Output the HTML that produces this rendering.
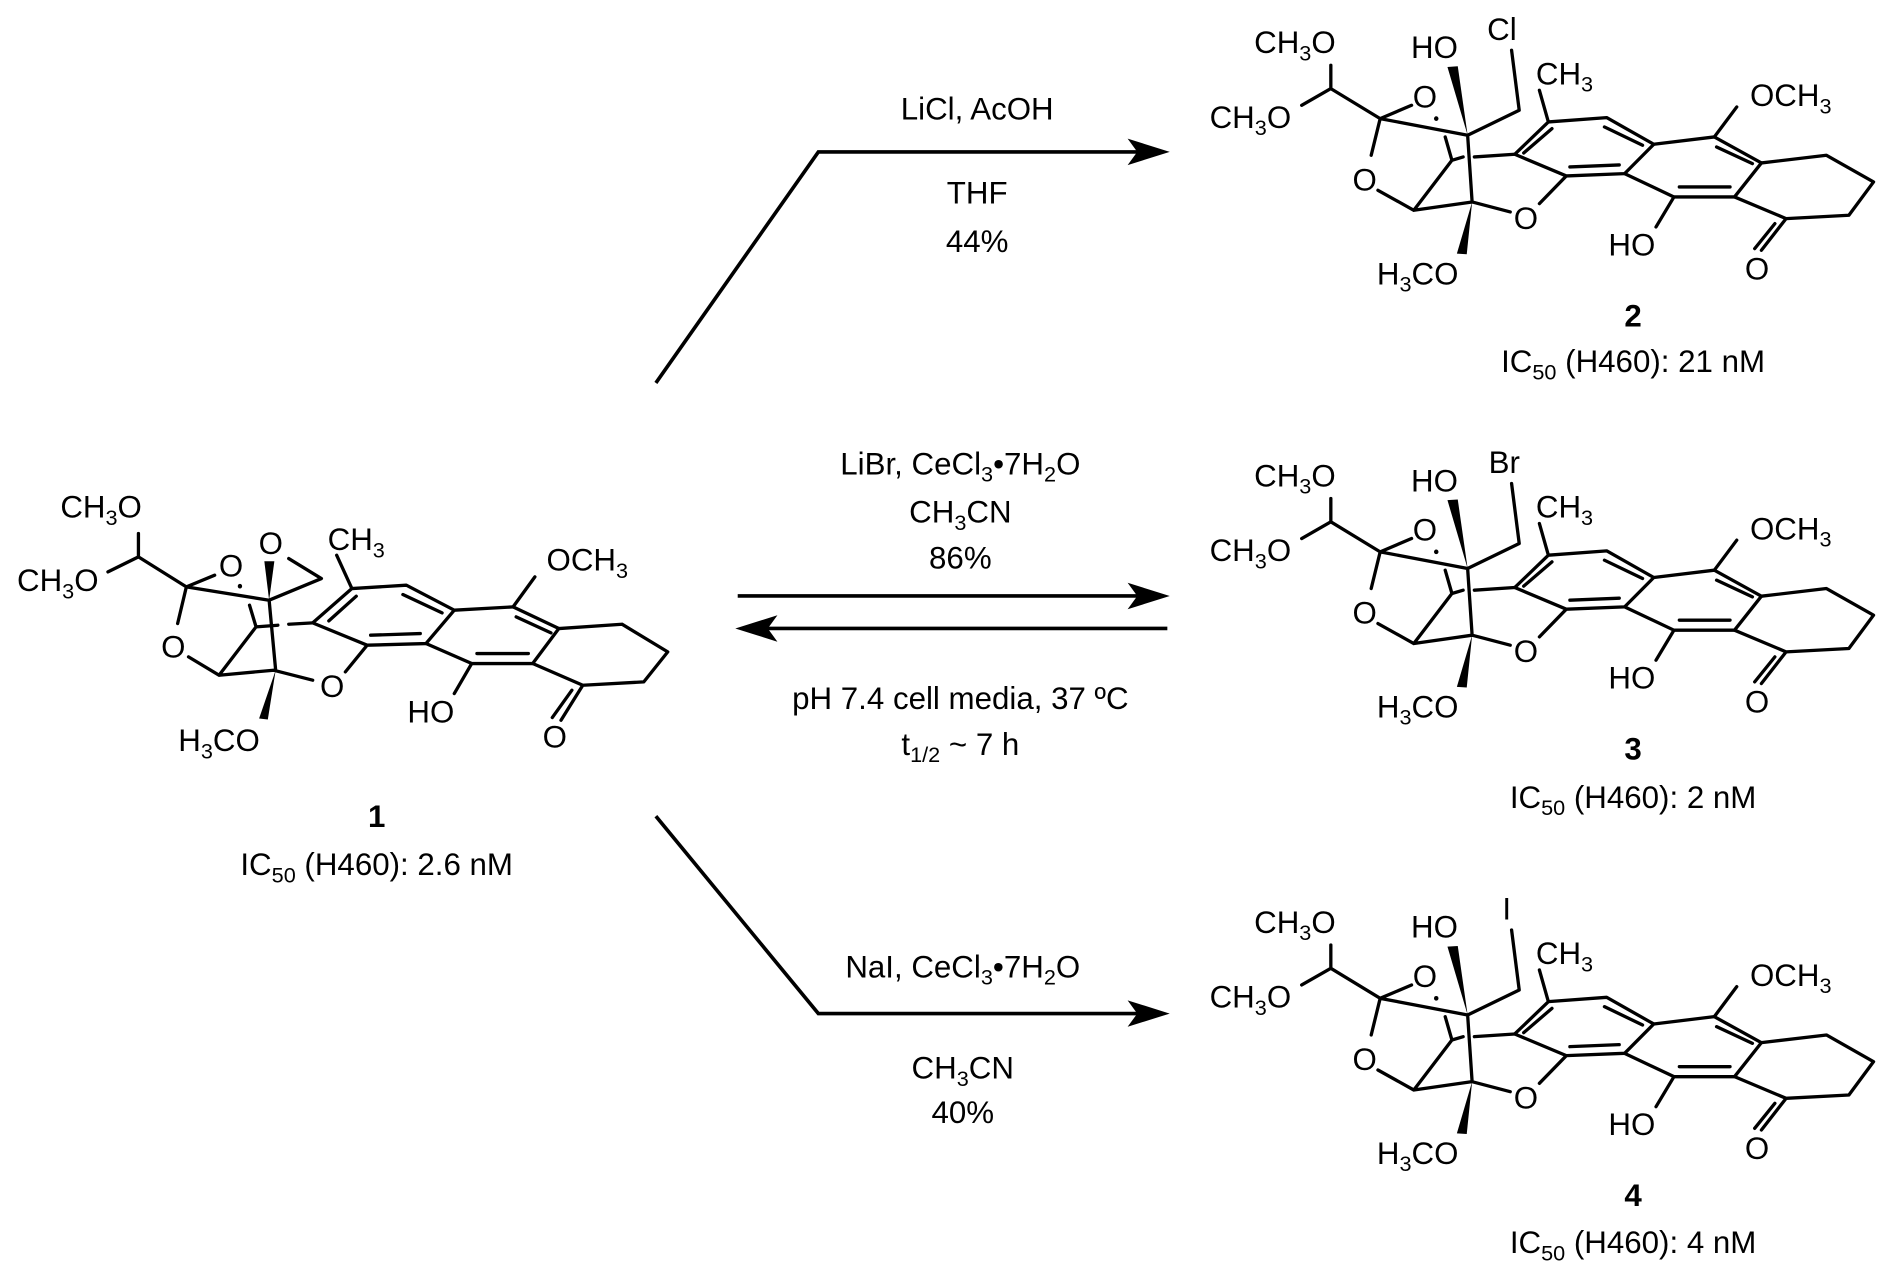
<!DOCTYPE html>
<html><head><meta charset="utf-8"><style>
html,body{margin:0;padding:0;background:#fff}
svg{display:block}
text{font-family:"Liberation Sans",Arial,sans-serif;fill:#000}
.b{stroke:#000;stroke-width:3.3;fill:none;stroke-linecap:round;stroke-linejoin:round}
</style></head><body>
<svg width="1887" height="1281" viewBox="0 0 1568 1064" xmlns="http://www.w3.org/2000/svg">
<defs>
<g id="prod">
 <g transform="translate(981,0) scale(0.3727,0.277)">
 <g class="b">
  <path vector-effect="non-scaling-stroke" d="M335 195 L335 265 L445 355 M270 315 L335 265 M515 315 L445 355 M445 355 L425 465 M445 355 L640 405 M640 405 L755 330 L738 150 M640 405 L650 605 M590 410 L605 480 M605 480 L630 470 M655 470 L745 462 M605 480 L520 630 M440 570 L520 630 L650 605 L735 635"/>
  <path vector-effect="non-scaling-stroke" d="M745 462 L820 365 L950 352 L1055 432 L990 520 L860 527 Z M860 527 L800 610 M820 365 L800 270"/>
  <path vector-effect="non-scaling-stroke" d="M765 458 L828 385 M945 380 L1030 435 M868 500 L978 494"/>
  <path vector-effect="non-scaling-stroke" d="M1055 432 L1190 410 L1295 488 L1235 590 L1100 590 L990 520 M1195 440 L1275 490 M1112 560 L1225 560"/>
  <path vector-effect="non-scaling-stroke" d="M1190 410 L1240 320 M1100 590 L1060 680"/>
  <path vector-effect="non-scaling-stroke" d="M1295 488 L1440 465 L1545 545 L1490 645 L1350 655 L1235 590 M1350 655 L1295 750 M1325 670 L1280 745"/>
 </g>
 <ellipse cx="570" cy="355" rx="5" ry="7" fill="#000"/>
 <polygon points="640,405 595,200 618,198" fill="#000"/>
 <polygon points="650,605 616,760 638,762" fill="#000"/>
 </g>
 <g font-size="26" text-anchor="middle">
  <text x="1076" y="44">CH<tspan font-size="18" dy="6">3</tspan><tspan dy="-6">O</tspan></text>
  <text x="1039" y="106">CH<tspan font-size="18" dy="6">3</tspan><tspan dy="-6">O</tspan></text>
  <text x="1184" y="89">O</text>
  <text x="1134" y="158">O</text>
  <text x="1268" y="190">O</text>
  <text x="1192" y="48">HO</text>
  <text x="1178" y="236">H<tspan font-size="18" dy="6">3</tspan><tspan dy="-6">CO</tspan></text>
  <text x="1300" y="70">CH<tspan font-size="18" dy="6">3</tspan></text>
  <text x="1488" y="88">OCH<tspan font-size="18" dy="6">3</tspan></text>
  <text x="1356" y="212">HO</text>
  <text x="1460" y="232">O</text>
 </g>
</g>
</defs>

<!-- compound 1 -->
<g transform="translate(1,398.8) scale(0.362,0.277)">
 <g class="b">
  <path vector-effect="non-scaling-stroke" d="M315 160 L315 230 L425 320 M245 275 L315 230 M490 285 L425 320 M425 320 L405 430 M425 320 L615 360 M615 360 L630 570 M660 235 L735 295 L615 360 M570 375 L585 440 M585 440 L635 435 M660 432 L715 428 M585 440 L500 585 M430 530 L500 585 L625 570 L715 600"/>
  <path vector-effect="non-scaling-stroke" d="M715 428 L805 325 L930 315 L1040 390 L975 490 L840 495 Z M840 495 L790 575 M805 325 L770 225"/>
  <path vector-effect="non-scaling-stroke" d="M752 422 L815 348 M922 343 L1012 398 M848 465 L962 460"/>
  <path vector-effect="non-scaling-stroke" d="M1040 390 L1175 380 L1280 445 L1220 550 L1080 550 L975 490 M1182 410 L1262 458 M1092 520 L1210 520"/>
  <path vector-effect="non-scaling-stroke" d="M1175 380 L1225 290 M1080 550 L1040 640"/>
  <path vector-effect="non-scaling-stroke" d="M1280 445 L1425 432 L1530 515 L1475 605 L1335 615 L1220 550 M1335 615 L1285 720 M1310 630 L1265 712"/>
 </g>
 <ellipse cx="548" cy="318" rx="5" ry="7" fill="#000"/>
 <polygon points="615,360 604,243 627,243" fill="#000"/>
 <polygon points="630,570 592,715 612,718" fill="#000"/>
</g>
<g font-size="26" text-anchor="middle">
 <text x="84" y="430">CH<tspan font-size="18" dy="6">3</tspan><tspan dy="-6">O</tspan></text>
 <text x="48" y="491">CH<tspan font-size="18" dy="6">3</tspan><tspan dy="-6">O</tspan></text>
 <text x="192" y="479">O</text>
 <text x="225" y="460">O</text>
 <text x="144" y="546">O</text>
 <text x="276" y="579">O</text>
 <text x="182" y="624">H<tspan font-size="18" dy="6">3</tspan><tspan dy="-6">CO</tspan></text>
 <text x="296" y="457">CH<tspan font-size="18" dy="6">3</tspan></text>
 <text x="488" y="474">OCH<tspan font-size="18" dy="6">3</tspan></text>
 <text x="358" y="600">HO</text>
 <text x="461" y="621">O</text>
</g>

<use href="#prod"/>
<use href="#prod" transform="translate(0,360)"/>
<use href="#prod" transform="translate(0,731)"/>
<g font-size="26" text-anchor="middle">
 <text x="1248" y="33">Cl</text>
 <text x="1250" y="393">Br</text>
 <text x="1252" y="764">I</text>
</g>

<!-- arrows -->
<g stroke="#000" stroke-width="3" fill="none">
 <path d="M545 318 L680 126 L955 126"/>
 <path d="M613 495 L955 495"/>
 <path d="M628 522 L970 522"/>
 <path d="M545 678 L680 842 L955 842"/>
</g>
<g fill="#000">
 <path d="M972 126 L937 115 L945 126 L937 137 Z"/>
 <path d="M972 495 L937 484 L945 495 L937 506 Z"/>
 <path d="M611 522 L646 511 L638 522 L646 533 Z"/>
 <path d="M972 842 L937 831 L945 842 L937 853 Z"/>
</g>

<g font-size="26" text-anchor="middle">
 <text x="812" y="99">LiCl, AcOH</text>
 <text x="812" y="169">THF</text>
 <text x="812" y="209">44%</text>
 <text x="798" y="394">LiBr, CeCl<tspan font-size="18" dy="6">3</tspan><tspan dy="-6">•7H</tspan><tspan font-size="18" dy="6">2</tspan><tspan dy="-6">O</tspan></text>
 <text x="798" y="434">CH<tspan font-size="18" dy="6">3</tspan><tspan dy="-6">CN</tspan></text>
 <text x="798" y="472">86%</text>
 <text x="798" y="589">pH 7.4 cell media, 37 ºC</text>
 <text x="798" y="627">t<tspan font-size="18" dy="6">1/2</tspan><tspan dy="-6"> ~ 7 h</tspan></text>
 <text x="800" y="812">NaI, CeCl<tspan font-size="18" dy="6">3</tspan><tspan dy="-6">•7H</tspan><tspan font-size="18" dy="6">2</tspan><tspan dy="-6">O</tspan></text>
 <text x="800" y="896">CH<tspan font-size="18" dy="6">3</tspan><tspan dy="-6">CN</tspan></text>
 <text x="800" y="933">40%</text>

 <text x="313" y="687" font-weight="bold">1</text>
 <text x="313" y="727">IC<tspan font-size="18" dy="6">50</tspan><tspan dy="-6"> (H460): 2.6 nM</tspan></text>
 <text x="1357" y="271" font-weight="bold">2</text>
 <text x="1357" y="309">IC<tspan font-size="18" dy="6">50</tspan><tspan dy="-6"> (H460): 21 nM</tspan></text>
 <text x="1357" y="631" font-weight="bold">3</text>
 <text x="1357" y="671">IC<tspan font-size="18" dy="6">50</tspan><tspan dy="-6"> (H460): 2 nM</tspan></text>
 <text x="1357" y="1002" font-weight="bold">4</text>
 <text x="1357" y="1041">IC<tspan font-size="18" dy="6">50</tspan><tspan dy="-6"> (H460): 4 nM</tspan></text>
</g>
</svg>
</body></html>
